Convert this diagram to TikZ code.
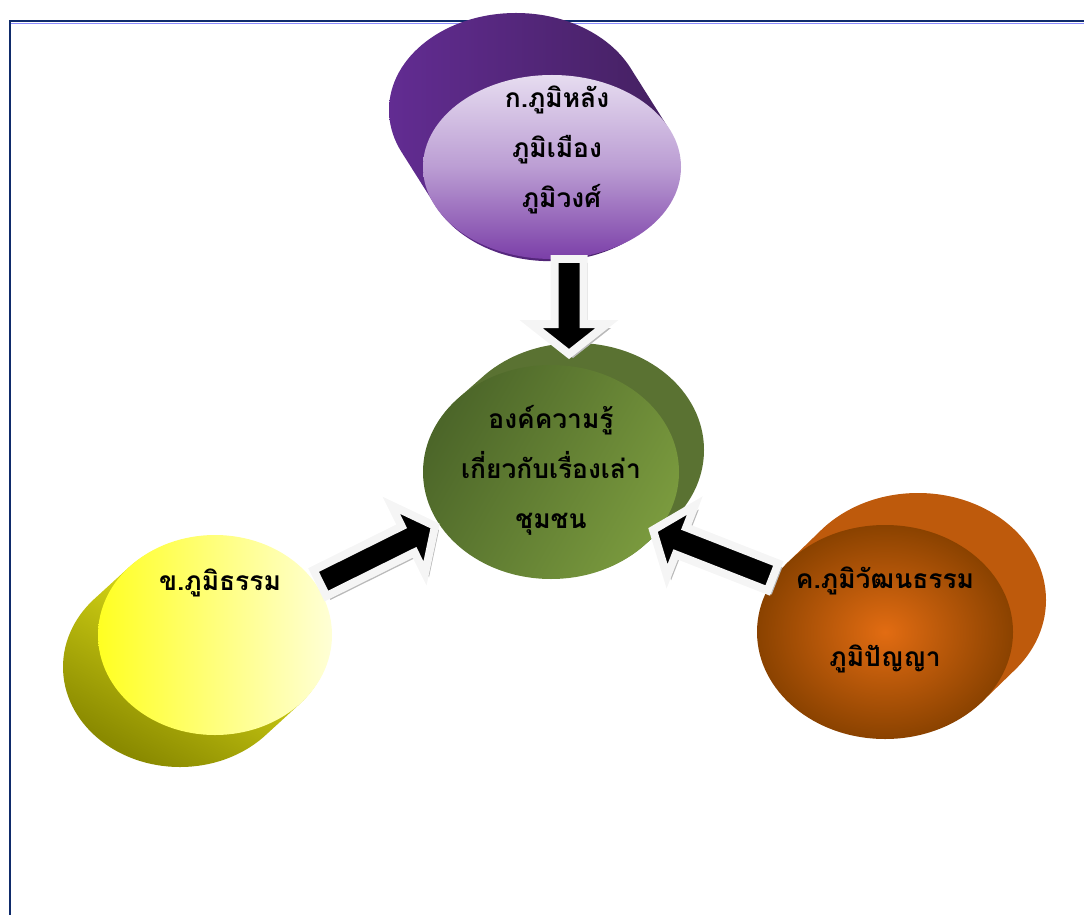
\documentclass[tikz,border=0pt]{standalone}
\usepackage{fontspec}
\newfontfamily\thaifont[Script=Thai]{Loma}
\usepackage{tikz}
\usetikzlibrary{calc}

\definecolor{frameblue}{HTML}{0F2B6B}
\definecolor{purpleback}{HTML}{622C92}
\definecolor{purpledark}{HTML}{43205F}
\definecolor{purplelight}{HTML}{E6DCF0}
\definecolor{purplemid}{HTML}{7B3FA8}
\definecolor{greenback}{HTML}{5A7232}
\definecolor{greendark}{HTML}{4C6629}
\definecolor{greenlight}{HTML}{7A9A3E}
\definecolor{yellowback}{HTML}{8A8A00}
\definecolor{yellowfront}{HTML}{FFFF22}
\definecolor{yellowpale}{HTML}{FFFFD6}
\definecolor{orangeback}{HTML}{BE5A0C}
\definecolor{orangein}{HTML}{E26C12}
\definecolor{orangeout}{HTML}{8A4200}

\tikzset{
  label/.style={font=\thaifont\fontsize{15}{28.5}\selectfont\bfseries, align=center, text=black},
  arrbody/.style={fill=black, draw=gray!8, line width=0.16cm, line join=miter},
  arrshadow/.style={fill=gray!55},
}

% block arrow from #1 to #2
\newcommand{\arrowpath}[2]{($(#1)!0.29cm!90:(#2)$) -- ($(h)!0.29cm!-90:(#1)$)
  -- ($(h)!0.76cm!-90:(#1)$) -- (#2) -- ($(h)!0.76cm!90:(#1)$)
  -- ($(h)!0.29cm!90:(#1)$) -- ($(#1)!0.29cm!-90:(#2)$) -- cycle}
\newcommand{\blockarrow}[2]{%
  \coordinate (h) at ($(#2)!0.6cm!(#1)$);
  \fill[arrshadow, transform canvas={shift={(0.08cm,-0.08cm)}}] \arrowpath{#1}{#2};
  \filldraw[arrbody] \arrowpath{#1}{#2};
}

\begin{document}
\begin{tikzpicture}[x=0.02cm, y=-0.02cm]
\useasboundingbox (0,0) rectangle (1084,915);

% frame
\draw[frameblue, line width=1.6pt] (10,915) -- (10,21) -- (1084,21);
\draw[blue!45, line width=0.4pt] (11,23) -- (1084,23);

% top cylinder
\coordinate (topb) at (516,110);
\coordinate (topf) at (552,167);
\shade[left color=purpleback, right color=purpledark]
  foreach \t in {0,0.05,...,1} {($(topb)!\t!(topf)$) ellipse [x radius=127, y radius=97]};
\shade[top color=purplelight, bottom color=purplemid, middle color=purplelight!60!purplemid]
  (topf) ellipse [x radius=129, y radius=92];
\node[label] (toptext) at (557,150) {ก.ภูมิหลัง\\ภูมิเมือง\\\ ภูมิวงศ์};

% center cylinder
\coordinate (midb) at (576,450);
\coordinate (midf) at (551,472);
\fill[greenback]
  foreach \t in {0,0.05,...,1} {($(midb)!\t!(midf)$) ellipse [x radius=128, y radius=107]};
\shade[left color=greendark, right color=greenlight, shading angle=60]
  (midf) ellipse [x radius=128, y radius=107];
\node[label] (midtext) at (551,470) {องค์ความรู้\\เกี่ยวกับเรื่องเล่า\\ชุมชน};

% left cylinder
\coordinate (leftb) at (180,667);
\coordinate (leftf) at (215,635);
\shade[top color=yellowfront, bottom color=yellowback, shading angle=-30]
  foreach \t in {0,0.05,...,1} {($(leftb)!\t!(leftf)$) ellipse [x radius=117, y radius=100]};
\shade[left color=yellowfront, right color=yellowpale]
  (leftf) ellipse [x radius=117, y radius=100];
\node[label] (lefttext) at (220,583) {ข.ภูมิธรรม};

% right cylinder
\coordinate (rightb) at (918,600);
\coordinate (rightf) at (885,632);
\fill[orangeback]
  foreach \t in {0,0.05,...,1} {($(rightb)!\t!(rightf)$) ellipse [x radius=128, y radius=107]};
\shade[inner color=orangein, outer color=orangeout]
  (rightf) ellipse [x radius=128, y radius=107];
\node[label] (righttext) at (885,620) {ค.ภูมิวัฒนธรรม\\[0.55cm]ภูมิปัญญา};

% arrows
\coordinate (a1) at (569,259);
\coordinate (a2) at (569,354);
\coordinate (b1) at (320,583);
\coordinate (b2) at (435,526);
\coordinate (c1) at (773,577);
\coordinate (c2) at (653,530);
\blockarrow{a1}{a2}
\blockarrow{b1}{b2}
\blockarrow{c1}{c2}
\end{tikzpicture}
\end{document}
